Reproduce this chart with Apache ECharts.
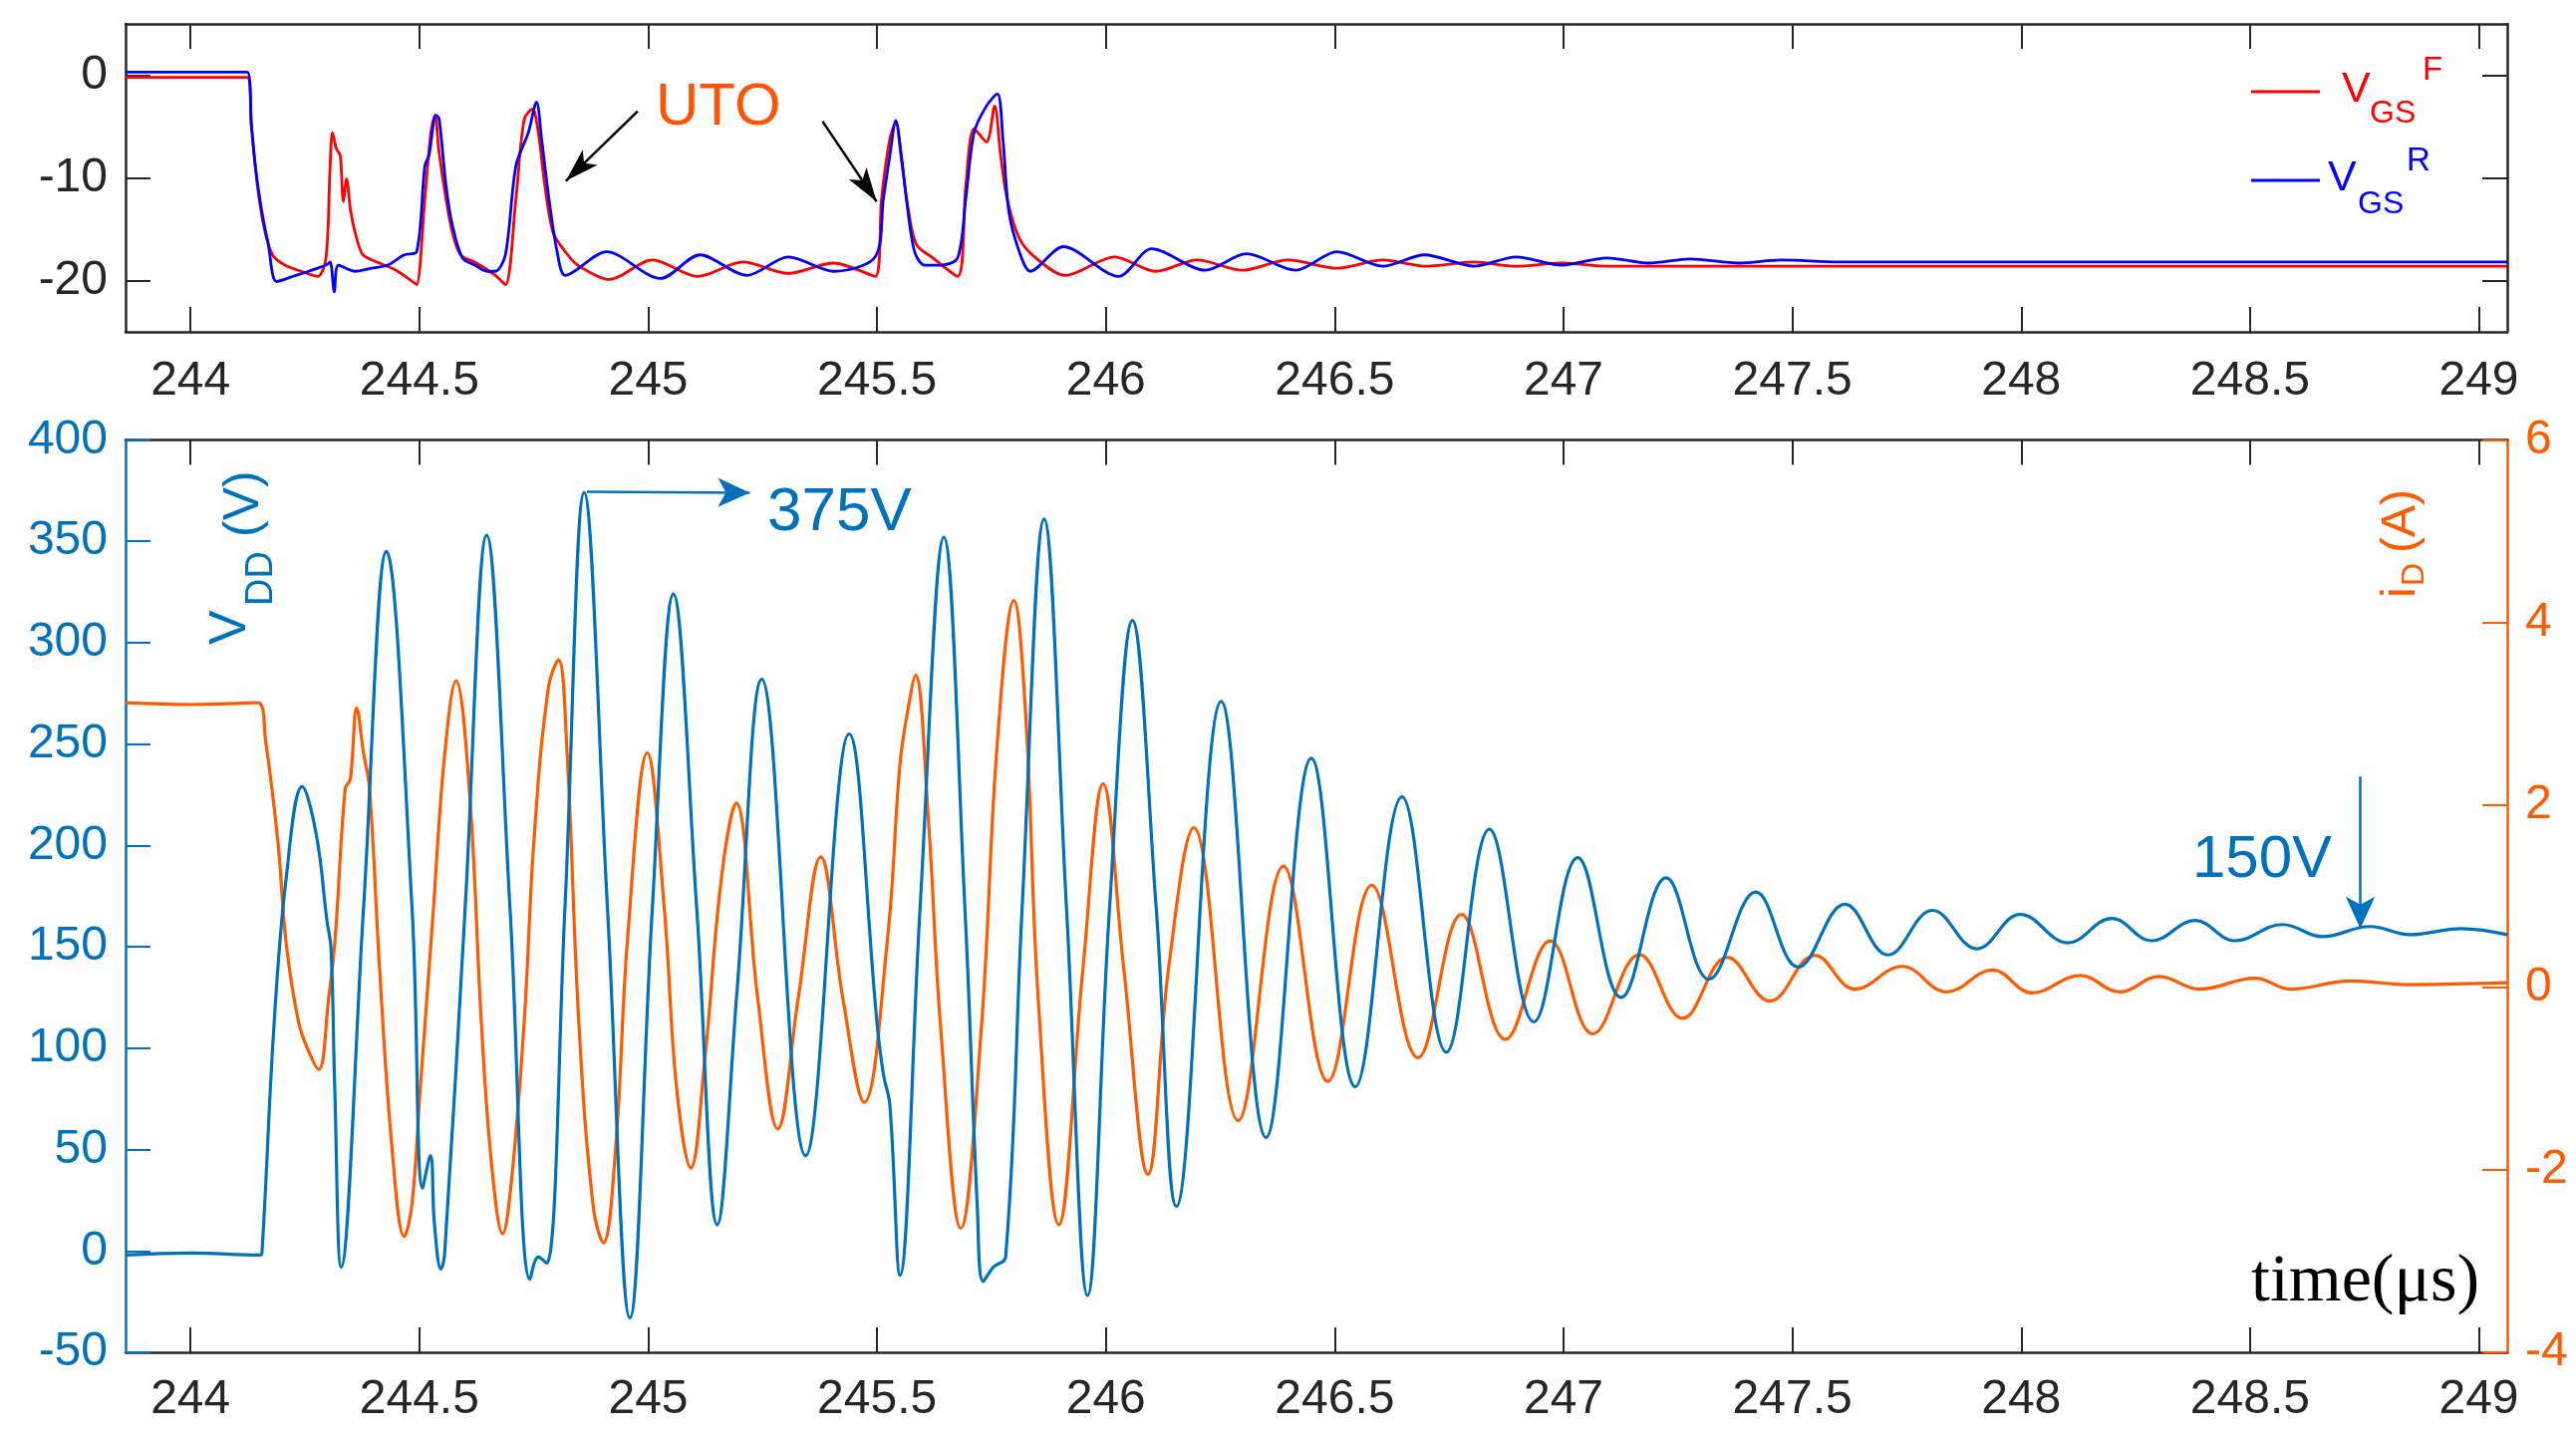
<!DOCTYPE html>
<html>
<head>
<meta charset="utf-8">
<script src="https://cdn.jsdelivr.net/npm/echarts@6/dist/echarts.min.js"></script>
<style>
html,body{margin:0;padding:0;background:#fff;}
#chart{width:2585px;height:1442px;}
</style>
</head>
<body>
<div id="chart"></div>
<script>
// ---------- data ----------
const timeMin = 243.858;
const timeMax = 249.062;
const timeTicks = [244, 244.5, 245, 245.5, 246, 246.5, 247, 247.5, 248, 248.5, 249];
const timeTickLabels = ['244', '244.5', '245', '245.5', '246', '246.5', '247', '247.5', '248', '248.5', '249'];
const vgsTicks = [-20, -10, 0];
const vgsTickLabels = ['-20', '-10', '0'];

// gate-source voltages (top panel): [time us, volts]
const vgsF = [
  [243.858,-0.2],[244.124,-0.2],[244.133,-4.9],[244.146,-10.7],[244.161,-14.9],[244.179,-17.5],[244.206,-18.5],
  [244.242,-19.1],[244.278,-19.6],[244.296,-17.8],[244.305,-8.8],[244.310,-5.6],[244.319,-7.2],[244.327,-7.8],
  [244.334,-12.3],[244.341,-10.1],[244.350,-13.3],[244.363,-15.9],[244.377,-17.5],[244.413,-18.3],[244.449,-19.0],
  [244.485,-20.1],[244.494,-20.4],[244.512,-12.0],[244.525,-5.6],[244.534,-3.9],[244.543,-7.5],[244.558,-12.0],
  [244.572,-15.3],[244.590,-17.5],[244.621,-18.2],[244.666,-19.5],[244.688,-20.4],[244.711,-12.0],[244.729,-4.3],
  [244.747,-3.3],[244.760,-5.6],[244.774,-10.7],[244.792,-15.3],[244.819,-17.2],[244.846,-18.5],[244.915,-19.9],
  [245.009,-18.0],[245.108,-19.6],[245.207,-18.2],[245.306,-19.3],[245.405,-18.3],[245.496,-19.6],[245.510,-12.0],
  [245.528,-6.2],[245.541,-4.6],[245.553,-8.1],[245.568,-13.0],[245.586,-16.5],[245.622,-17.8],[245.676,-19.6],
  [245.694,-10.7],[245.712,-5.2],[245.739,-6.5],[245.757,-3.0],[245.770,-7.8],[245.784,-12.0],[245.811,-15.9],
  [245.847,-17.8],[245.911,-19.5],[246.019,-17.7],[246.109,-19.1],[246.199,-18.0],[246.298,-19.0],[246.398,-18.0],
  [246.505,-18.8],[246.605,-18.0],[246.696,-18.6],[246.805,-18.2],[246.896,-18.6],[246.995,-18.3],[247.1,-18.6],
  [247.5,-18.6],[248.0,-18.6],[248.5,-18.6],[249.062,-18.6]
];
const vgsR = [
  [243.858,0.3],[244.124,0.3],[244.133,-4.9],[244.143,-9.4],[244.157,-13.6],[244.170,-16.5],[244.188,-20.1],
  [244.230,-19.5],[244.258,-19.1],[244.296,-18.5],[244.305,-18.2],[244.314,-21.1],[244.323,-18.5],[244.359,-19.1],
  [244.395,-18.8],[244.431,-18.5],[244.467,-17.5],[244.494,-17.2],[244.512,-8.8],[244.521,-7.8],[244.536,-3.9],
  [244.543,-4.2],[244.558,-10.7],[244.572,-14.6],[244.594,-17.8],[244.621,-18.5],[244.648,-19.1],[244.666,-19.1],
  [244.688,-17.5],[244.711,-8.8],[244.738,-5.6],[244.756,-2.6],[244.767,-6.2],[244.783,-12.0],[244.801,-17.2],
  [244.819,-19.5],[244.909,-17.2],[245.027,-19.8],[245.113,-17.5],[245.216,-19.5],[245.306,-17.7],[245.406,-19.1],
  [245.496,-17.7],[245.514,-12.0],[245.528,-7.8],[245.541,-4.4],[245.553,-7.8],[245.564,-12.0],[245.582,-17.2],
  [245.604,-18.5],[245.640,-18.5],[245.676,-17.8],[245.694,-12.0],[245.712,-5.6],[245.739,-3.0],[245.763,-1.8],
  [245.775,-6.2],[245.788,-13.3],[245.811,-17.2],[245.835,-19.1],[245.907,-16.7],[246.028,-19.6],[246.100,-16.9],
  [246.217,-19.0],[246.307,-17.4],[246.415,-19.0],[246.505,-17.2],[246.605,-18.6],[246.696,-17.5],[246.805,-18.6],
  [246.896,-17.7],[246.995,-18.5],[247.095,-17.8],[247.186,-18.3],[247.276,-17.9],[247.385,-18.3],[247.476,-18.0],
  [247.6,-18.2],[248.0,-18.2],[248.5,-18.2],[249.062,-18.2]
];

// drain voltage V_DD (bottom panel, left axis): [time us, volts]
const vdd = [
  [243.858,-2],[244.0,-1],[244.151,-2],[244.156,-1],[244.182,110],[244.209,184],[244.244,229],[244.275,205],
  [244.298,163],[244.307,149],[244.315,81],[244.329,-8],[244.378,169],[244.428,345],[244.484,169],[244.507,31],
  [244.524,47],[244.533,13],[244.547,-9],[244.555,-2],[244.600,169],[244.647,353],[244.698,169],[244.742,-14],
  [244.760,-3],[244.778,-6],[244.818,169],[244.860,374],[244.911,169],[244.960,-33],[245.009,169],[245.055,324],
  [245.106,169],[245.151,13],[245.194,128],[245.248,282],[245.344,47],[245.439,255],[245.501,110],[245.514,87],
  [245.528,72],[245.550,-12],[245.594,169],[245.646,352],[245.692,169],[245.719,22],[245.732,-15],[245.754,-8],
  [245.781,-3],[245.817,169],[245.865,361],[245.914,169],[245.960,-22],[246.008,169],[246.058,311],[246.110,169],
  [246.154,22],[246.252,271],[246.350,56],[246.449,243],[246.545,81],[246.647,224],[246.744,98],[246.838,208],
  [246.935,113],[247.031,194],[247.126,125],[247.224,184],[247.318,134],[247.420,177],[247.513,140],[247.615,171],
  [247.709,146],[247.806,168],[247.903,149],[247.998,166],[248.102,152],[248.198,164],[248.285,153],[248.380,163],
  [248.467,153],[248.571,161],[248.658,155],[248.762,160],[248.849,156],[248.962,159],[249.062,156]
];

// drain current i_D (bottom panel, right axis): [time us, amps]
const iD = [
  [243.858,3.12],[244.0,3.1],[244.147,3.12],[244.164,2.70],[244.191,1.59],[244.209,0.48],[244.236,-0.38],
  [244.258,-0.70],[244.280,-0.90],[244.302,-0.11],[244.316,0.54],[244.338,2.18],[244.349,2.28],[244.363,3.06],
  [244.378,2.57],[244.391,2.18],[244.413,0.21],[244.440,-1.75],[244.467,-2.73],[244.484,-2.37],[244.502,-1.10],
  [244.529,0.74],[244.555,2.54],[244.580,3.36],[244.609,2.18],[244.636,-0.44],[244.658,-1.95],[244.682,-2.70],
  [244.702,-2.08],[244.729,-0.38],[244.751,1.66],[244.782,3.29],[244.804,3.59],[244.822,2.64],[244.849,-0.44],
  [244.880,-2.41],[244.902,-2.80],[244.929,-1.75],[244.955,0.54],[244.998,2.57],[245.035,0.87],[245.062,-1.10],
  [245.093,-1.98],[245.124,-0.77],[245.160,1.20],[245.192,2.02],[245.239,-0.11],[245.283,-1.55],[245.328,-0.11],
  [245.377,1.43],[245.425,-0.11],[245.472,-1.26],[245.523,0.54],[245.550,2.44],[245.568,3.06],[245.584,3.42],
  [245.612,1.85],[245.639,-0.44],[245.683,-2.64],[245.728,-0.44],[245.763,2.70],[245.799,4.24],[245.825,2.97],
  [245.852,-0.11],[245.897,-2.60],[245.950,0.21],[245.994,2.23],[246.039,0.21],[246.092,-2.05],[246.137,0.21],
  [246.192,1.75],[246.289,-1.46],[246.388,1.33],[246.485,-1.03],[246.581,1.12],[246.682,-0.77],[246.777,0.80],
  [246.873,-0.57],[246.971,0.51],[247.064,-0.51],[247.166,0.36],[247.260,-0.34],[247.358,0.33],[247.451,-0.15],
  [247.549,0.35],[247.637,-0.02],[247.740,0.23],[247.837,-0.05],[247.937,0.19],[248.024,-0.06],[248.129,0.13],
  [248.215,-0.05],[248.302,0.12],[248.389,-0.02],[248.511,0.10],[248.589,-0.02],[248.719,0.07],[248.850,0.03],
  [249.062,0.05]
];

// annotation arrows (data coordinates)
const utoArrow1 = [[244.977, -3.5], [244.820, -10.3]];
const utoArrow2 = [[245.381, -4.5], [245.499, -12.3]];
const peakArrow = [[244.866, 374.5], [245.222, 374]];
const steadyArrow = [[248.741, 234], [248.741, 159]];

// ---------- styling ----------
const DARK = '#262626';
const BLUE = '#0072BD';
const ORANGE = '#FF5A00';
const SANS = 'Liberation Sans';

const chart = echarts.init(document.getElementById('chart'), null, {renderer: 'canvas'});

function xAxisDef(grid, pos, withLabels) {
  return {
    type: 'value', gridIndex: grid, position: pos, min: timeMin, max: timeMax,
    minInterval: 0.5, maxInterval: 0.5,
    axisLine: {show: true, onZero: false, lineStyle: {color: DARK, width: 2.5}},
    axisTick: {show: true, inside: true, length: 25, customValues: timeTicks, lineStyle: {color: DARK, width: 2}},
    axisLabel: {
      show: withLabels, customValues: timeTicks, margin: grid === 0 ? 26 : 24,
      fontSize: 48, fontFamily: SANS, color: DARK,
      formatter: v => { const k = timeTicks.findIndex(t => Math.abs(t - v) < 1e-6); return k >= 0 ? timeTickLabels[k] : ''; }
    },
    splitLine: {show: false}
  };
}

function arrowLine(pts, color, size) {
  return {
    silent: true, animation: false,
    symbol: ['none', 'arrow'], symbolSize: size,
    label: {show: false}, emphasis: {disabled: true},
    lineStyle: {color: color, width: 2.5, type: 'solid'},
    data: [[{coord: pts[0]}, {coord: pts[1]}]]
  };
}

function txt(x, y, s, size, color, family, rot) {
  return {
    type: 'text', x: x, y: y, rotation: rot || 0, silent: true,
    style: {text: s, fontSize: size, fontFamily: family || SANS, fill: color, align: 'left', verticalAlign: 'middle'}
  };
}

const option = {
  animation: false,
  backgroundColor: '#ffffff',
  grid: [
    {left: 126, right: 69, top: 24, height: 309},
    {left: 126, right: 69, top: 441.5, height: 915.5}
  ],
  xAxis: [
    xAxisDef(0, 'bottom', true),
    xAxisDef(0, 'top', false),
    xAxisDef(1, 'bottom', true),
    xAxisDef(1, 'top', false)
  ],
  yAxis: [
    {
      type: 'value', gridIndex: 0, position: 'left', min: -25, max: 5,
      axisLine: {show: true, onZero: false, lineStyle: {color: DARK, width: 2.5}},
      axisTick: {show: true, inside: true, length: 25, customValues: vgsTicks, lineStyle: {color: DARK, width: 2}},
      axisLabel: {
        customValues: vgsTicks, margin: 18, fontSize: 48, fontFamily: SANS, color: DARK,
        formatter: v => { const k = vgsTicks.indexOf(Math.round(v)); return k >= 0 ? vgsTickLabels[k] : ''; }
      },
      splitLine: {show: false}
    },
    {
      type: 'value', gridIndex: 0, position: 'right', min: -25, max: 5,
      axisLine: {show: true, onZero: false, lineStyle: {color: DARK, width: 2.5}},
      axisTick: {show: true, inside: true, length: 25, customValues: vgsTicks, lineStyle: {color: DARK, width: 2}},
      axisLabel: {show: false},
      splitLine: {show: false}
    },
    {
      type: 'value', gridIndex: 1, position: 'left', min: -50, max: 400, interval: 50,
      axisLine: {show: true, onZero: false, lineStyle: {color: BLUE, width: 2.5}},
      axisTick: {show: true, inside: true, length: 25, lineStyle: {color: BLUE, width: 2}},
      axisLabel: {margin: 18, fontSize: 48, fontFamily: SANS, color: BLUE},
      splitLine: {show: false}
    },
    {
      type: 'value', gridIndex: 1, position: 'right', min: -4, max: 6, interval: 2,
      axisLine: {show: true, onZero: false, lineStyle: {color: ORANGE, width: 2.5}},
      axisTick: {show: true, inside: true, length: 25, lineStyle: {color: ORANGE, width: 2}},
      axisLabel: {margin: 18, fontSize: 48, fontFamily: SANS, color: ORANGE},
      splitLine: {show: false}
    }
  ],
  series: [
    {
      name: 'VGS F', type: 'line', xAxisIndex: 0, yAxisIndex: 0, data: vgsF,
      showSymbol: false, smooth: 0.3,
      lineStyle: {color: '#FF0000', width: 2.8}, itemStyle: {color: '#FF0000'},
      markLine: arrowLine(utoArrow1, '#000000', [16, 34]), z: 3
    },
    {
      name: 'VGS R', type: 'line', xAxisIndex: 0, yAxisIndex: 0, data: vgsR,
      showSymbol: false, smooth: 0.3,
      lineStyle: {color: '#0000FF', width: 2.8}, itemStyle: {color: '#0000FF'},
      markLine: arrowLine(utoArrow2, '#000000', [16, 34]), z: 4
    },
    {
      name: 'iD', type: 'line', xAxisIndex: 2, yAxisIndex: 3, data: iD,
      showSymbol: false, smooth: 0.4,
      lineStyle: {color: ORANGE, width: 3.2}, itemStyle: {color: ORANGE}, z: 3
    },
    {
      name: 'VDD', type: 'line', xAxisIndex: 2, yAxisIndex: 2, data: vdd,
      showSymbol: false, smooth: 0.4,
      lineStyle: {color: BLUE, width: 3.2}, itemStyle: {color: BLUE}, z: 4,
      markLine: {
        silent: true, animation: false, symbol: ['none', 'arrow'], symbolSize: [22, 32],
        label: {show: false}, emphasis: {disabled: true},
        lineStyle: {color: BLUE, width: 2.5, type: 'solid'},
        data: [
          [{coord: peakArrow[0]}, {coord: peakArrow[1]}],
          [{coord: steadyArrow[0]}, {coord: steadyArrow[1]}]
        ]
      }
    }
  ],
  graphic: [
    txt(658, 108, 'UTO', 60, '#FF5308'),
    txt(770, 515, '375V', 62, BLUE),
    txt(2200, 863, '150V', 60, BLUE),
    txt(2259, 1287, 'time(\u03bcs)', 68, '#000000', 'Liberation Serif'),
    // legend
    {type: 'line', silent: true, shape: {x1: 2259, y1: 92, x2: 2328, y2: 92}, style: {stroke: '#FF0000', lineWidth: 3}},
    {type: 'line', silent: true, shape: {x1: 2259, y1: 181, x2: 2328, y2: 181}, style: {stroke: '#0000FF', lineWidth: 3}},
    txt(2350, 90, 'V', 43, '#FF0000'),
    txt(2378, 114, 'GS', 32, '#FF0000'),
    txt(2431, 71, 'F', 33, '#FF0000'),
    txt(2336, 179, 'V', 43, '#0000FF'),
    txt(2366, 205, 'GS', 32, '#0000FF'),
    txt(2415, 162, 'R', 33, '#0000FF'),
    // axis names (rotated)
    txt(232, 647, 'V', 52, BLUE, SANS, Math.PI / 2),
    txt(262.5, 608, 'DD', 38, BLUE, SANS, Math.PI / 2),
    txt(244.8, 539, '(V)', 50, BLUE, SANS, Math.PI / 2),
    txt(2410, 600, 'i', 48, ORANGE, SANS, Math.PI / 2),
    txt(2423, 588, 'D', 32, ORANGE, SANS, Math.PI / 2),
    txt(2410, 555, '(A)', 48, ORANGE, SANS, Math.PI / 2)
  ]
};

chart.setOption(option);
</script>
</body>
</html>
